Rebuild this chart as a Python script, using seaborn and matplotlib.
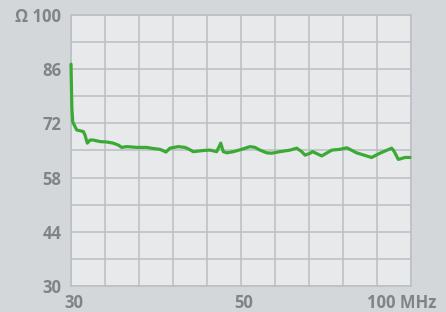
import numpy as np
import pandas as pd
import matplotlib
matplotlib.use("Agg")
import matplotlib.pyplot as plt
import matplotlib.transforms as mtransforms
from matplotlib.ticker import FixedLocator
import seaborn as sns

# Data
freq_mhz = [30.0, 30.1, 30.2, 30.67, 31.45, 31.65, 31.92, 32.24, 32.63, 33.42, 34.2,
            34.98, 35.57, 35.97, 36.56, 37.74, 38.92, 39.7, 40.49, 41.19, 41.66,
            42.64, 43.43, 43.93, 44.41, 45.59, 46.38, 47.17, 47.64, 47.94, 48.35,
            49.13, 50.34, 53.32, 55.12, 56.91, 59.32, 61.1, 64.1, 67.7, 70.1, 71.9,
            73.1, 74.9, 75.8, 79.1, 82.7, 85.6, 88.1, 91.6, 97.0, 100.0, 104.2,
            105.0, 106.6, 109.0, 110.8]
impedance_ohm = [87.3, 76.0, 72.4, 70.3, 69.9, 69.0, 66.9, 67.7, 67.7, 67.3, 67.2,
                 66.9, 66.4, 65.8, 66.0, 65.8, 65.8, 65.5, 65.3, 64.6, 65.6,
                 66.0, 65.8, 65.3, 64.7, 65.0, 65.1, 64.7, 66.9, 64.7, 64.4,
                 64.7, 65.3, 66.0, 65.8, 65.1, 64.4, 64.3, 64.7, 65.1, 65.6, 64.7,
                 63.8, 64.3, 64.7, 63.6, 65.1, 65.3, 65.7, 64.4, 63.2, 64.3, 65.6,
                 64.9, 62.7, 63.2, 63.2]
x_tick_values = [30, 50, 100]
x_tick_labels = ["30", "50", "100 MHz"]
y_tick_values = [30, 44, 58, 72, 86, 100]
y_tick_labels = ["30", "44", "58", "72", "86", "Ω 100"]

# Axis mapping of the original chart (piecewise-linear frequency axis)
f_anchor = [30, 50, 100, 200]
p_anchor = [0, 5, 9.1, 17.3]
def fwd(f):
    return np.interp(f, f_anchor, p_anchor)
def inv(p):
    return np.interp(p, p_anchor, f_anchor)

bg = "#d3d7da"
panel = "#e8e9eb"
grid_c = "#b9bfc5"
text_c = "#808488"
green = "#3aaa35"

sns.set_theme(style="white")
plt.rcParams["font.family"] = ["Open Sans", "DejaVu Sans"]

fig = plt.figure(figsize=(4.46, 3.12), dpi=100, facecolor=bg)
ax = fig.add_axes([71 / 446, 26 / 312, 339.5 / 446, 271 / 312])
ax.set_facecolor(panel)
ax.set_xscale("function", functions=(fwd, inv))

df = pd.DataFrame({"freq": freq_mhz, "z": impedance_ohm})
sns.lineplot(data=df, x="freq", y="z", ax=ax, color=green, linewidth=2.3,
             solid_joinstyle="round", solid_capstyle="round", clip_on=False,
             zorder=5)

ax.set_xlim(30, inv(10))
ax.set_ylim(30, 100)

ax.set_xticks(x_tick_values)
ax.set_xticklabels(x_tick_labels)
ax.set_yticks(y_tick_values)
ax.set_yticklabels(y_tick_labels)

ax.xaxis.remove_overlapping_locs = False
ax.yaxis.remove_overlapping_locs = False
ax.xaxis.set_minor_locator(FixedLocator(list(inv(np.arange(11)))))
ax.yaxis.set_minor_locator(FixedLocator(list(np.arange(30, 101, 7))))
ax.grid(False, which="major")
ax.grid(True, which="minor", color=grid_c, linewidth=1.1)
ax.set_axisbelow(True)

ax.tick_params(which="both", length=0)
ax.tick_params(axis="x", pad=6)
ax.tick_params(axis="y", pad=7)
for lab in ax.get_xticklabels() + ax.get_yticklabels():
    lab.set_color(text_c)
    lab.set_fontsize(12)
    lab.set_fontweight("bold")
# shift labels slightly as in the reference
xl = ax.get_xticklabels()
off = mtransforms.ScaledTranslation(3 / 100, 0, fig.dpi_scale_trans)
for lab in xl[:2]:
    lab.set_transform(lab.get_transform() + off)
xl[2].set_horizontalalignment("left")
xl[2].set_transform(xl[2].get_transform() + mtransforms.ScaledTranslation(-13 / 100, 0, fig.dpi_scale_trans))

for s in ax.spines.values():
    s.set_color(grid_c)
    s.set_linewidth(1.1)
    s.set_zorder(1)

ax.set_xlabel("")
ax.set_ylabel("")
fig.savefig("out.png", dpi=100, facecolor=bg)
